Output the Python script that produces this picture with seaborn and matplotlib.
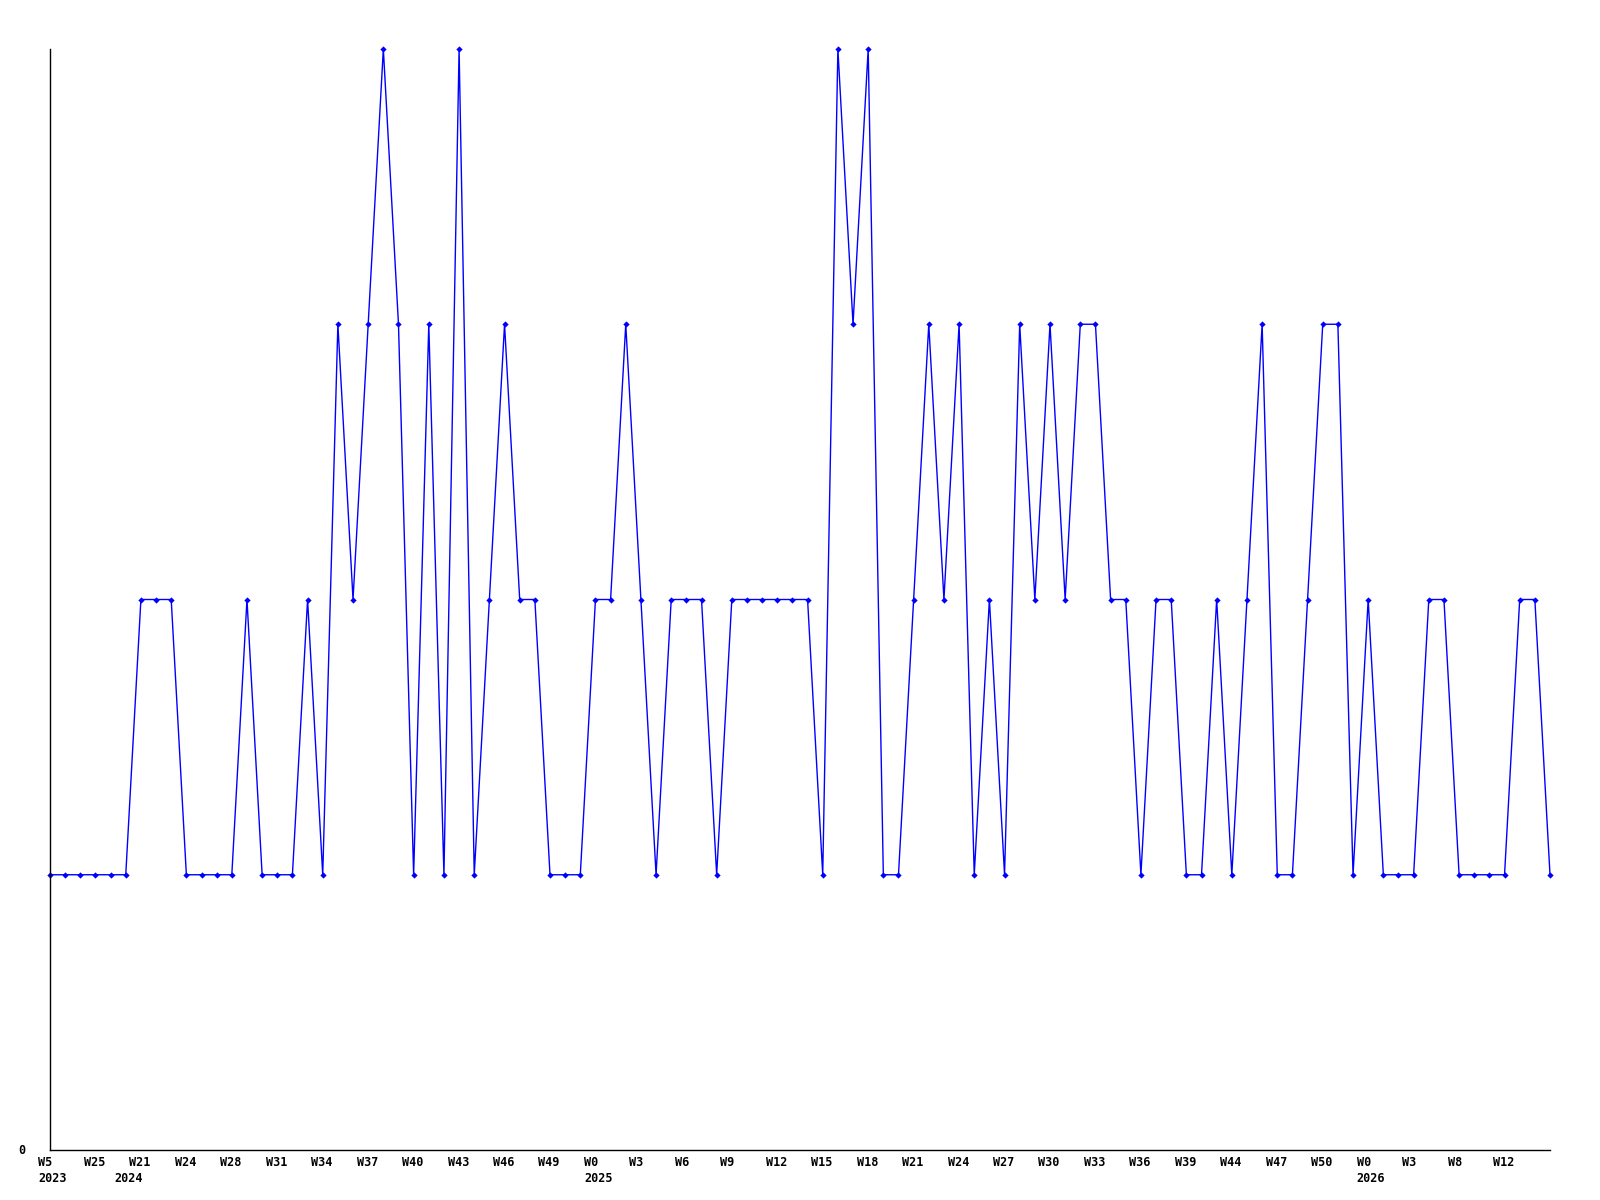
import matplotlib
matplotlib.use("Agg")
import matplotlib.pyplot as plt
import matplotlib.transforms as mtransforms
import seaborn as sns
import pandas as pd

values = [1, 1, 1, 1, 1, 1, 2, 2, 2, 1, 1, 1, 1, 2, 1, 1, 1, 2, 1, 3,
          2, 3, 4, 3, 1, 3, 1, 4, 1, 2, 3, 2, 2, 1, 1, 1, 2, 2, 3, 2,
          1, 2, 2, 2, 1, 2, 2, 2, 2, 2, 2, 1, 4, 3, 4, 1, 1, 2, 3, 2,
          3, 1, 2, 1, 3, 2, 3, 2, 3, 3, 2, 2, 1, 2, 2, 1, 1, 2, 1, 2,
          3, 1, 1, 2, 3, 3, 1, 2, 1, 1, 1, 2, 2, 1, 1, 1, 1, 2, 2, 1]

tick_positions = [0, 3, 6, 9, 12, 15, 18, 21, 24, 27, 30, 33, 36, 39, 42, 45,
                  48, 51, 54, 57, 60, 63, 66, 69, 72, 75, 78, 81, 84, 87, 90, 93, 96]
tick_labels = ["W5", "W25", "W21", "W24", "W28", "W31", "W34", "W37", "W40", "W43",
               "W46", "W49", "W0", "W3", "W6", "W9", "W12", "W15", "W18", "W21",
               "W24", "W27", "W30", "W33", "W36", "W39", "W44", "W47", "W50", "W0",
               "W3", "W8", "W12"]
year_positions = [0, 5, 36, 87]
year_labels = ["2023", "2024", "2025", "2026"]

df = pd.DataFrame({"idx": range(len(values)), "value": values})

sns.set_theme(style="white")
plt.rcParams["font.family"] = ["DejaVu Sans Mono", "DejaVu Sans"]

fig = plt.figure(figsize=(16, 12), dpi=100)
ax = fig.add_axes([50 / 1600, 1 - 1150 / 1200, 1500 / 1600, (1150 - 49) / 1200])

sns.lineplot(data=df, x="idx", y="value", ax=ax, color="#0000ff", linewidth=1,
             marker="D", markersize=3.2, markeredgewidth=0, clip_on=False)

ax.set_xlim(0, len(values) - 1)
ax.set_ylim(0, 4)
ax.set_xlabel("")
ax.set_ylabel("")
ax.set_xticks([])
ax.set_yticks([])
for s in ["top", "right"]:
    ax.spines[s].set_visible(False)
for s in ["left", "bottom"]:
    ax.spines[s].set_color("black")
    ax.spines[s].set_linewidth(1)

trans = mtransforms.blended_transform_factory(ax.transData, ax.transAxes)
off = mtransforms.ScaledTranslation(-11.5 / 100, 0, fig.dpi_scale_trans)
font = dict(fontsize=8.5, fontweight="bold", color="black")
for p, lab in zip(tick_positions, tick_labels):
    ax.text(p, 0, lab, transform=trans + off + mtransforms.ScaledTranslation(0, -6.5 / 100, fig.dpi_scale_trans),
            ha="left", va="top", **font)
for p, lab in zip(year_positions, year_labels):
    ax.text(p, 0, lab, transform=trans + off + mtransforms.ScaledTranslation(0, -21.5 / 100, fig.dpi_scale_trans),
            ha="left", va="top", **font)
ax.text(-28 / 1500, 0, "0", transform=ax.transAxes, ha="center", va="center", **font)

fig.savefig("out.png", dpi=100)
